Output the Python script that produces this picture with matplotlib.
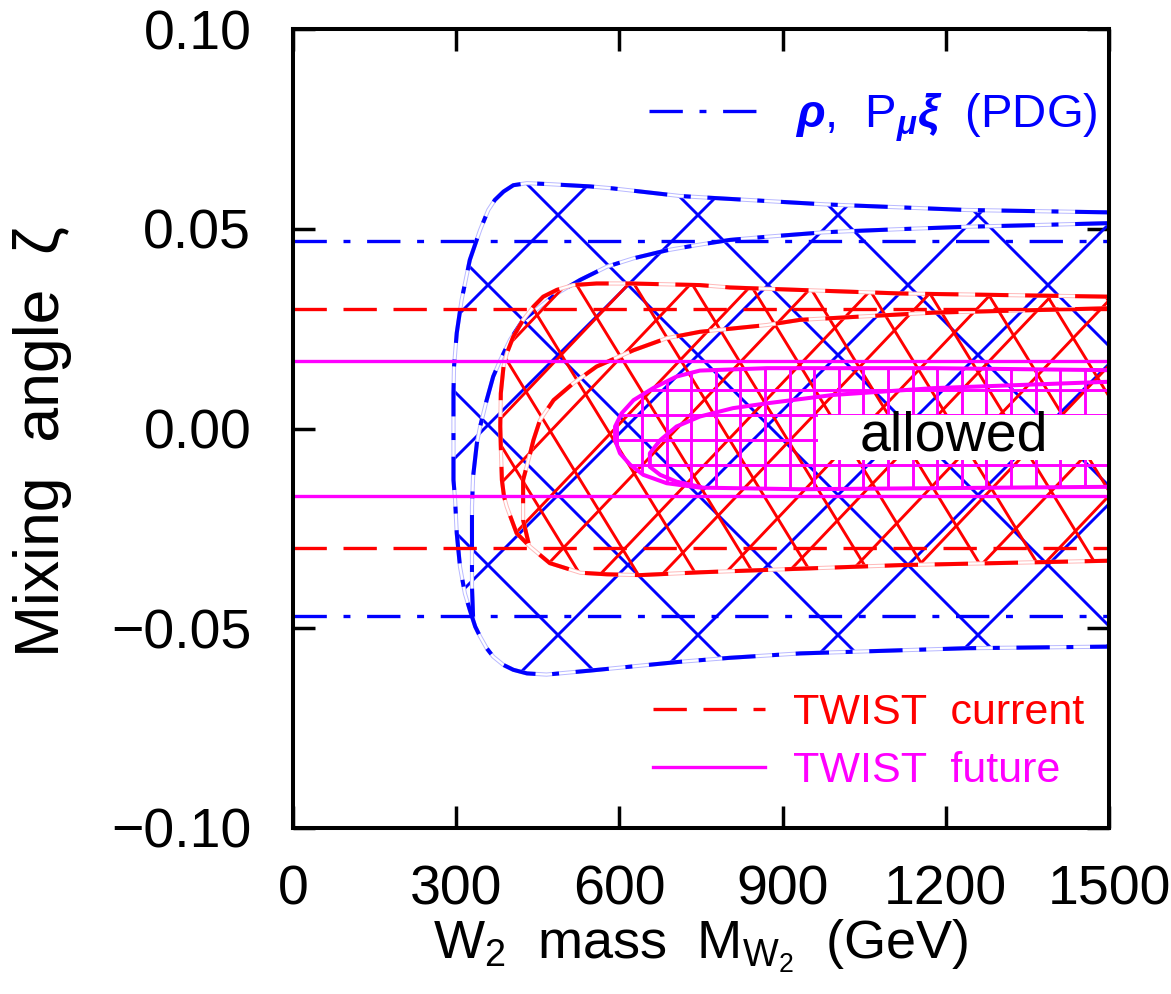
import numpy as np
import matplotlib
matplotlib.use('Agg')
import matplotlib.pyplot as plt
from matplotlib.patches import Polygon, Rectangle
from matplotlib.lines import Line2D
from matplotlib.ticker import FuncFormatter

plt.rcParams['font.family'] = ['Liberation Sans Narrow', 'Liberation Sans', 'DejaVu Sans']
plt.rcParams['mathtext.fontset'] = 'custom'
plt.rcParams['mathtext.rm'] = 'Liberation Sans'
plt.rcParams['mathtext.it'] = 'Liberation Sans:italic'
plt.rcParams['mathtext.bf'] = 'Liberation Sans:bold:italic'
plt.rcParams['lines.scale_dashes'] = False

# --- data: W2 mass (GeV) vs mixing angle zeta ---
# PDG (rho, P_mu xi): outer and inner contour
pdg_outer_m = [1499, 1238, 978, 748, 711, 588, 546, 466, 430, 405, 387, 371, 359, 344,
               325, 310, 301, 296, 295, 295, 295, 298, 301, 307, 316, 325, 335, 344,
               356, 368, 387, 405, 430, 466, 546, 711, 803, 932, 1238, 1499]
pdg_outer_z = [0.0541, 0.0547, 0.0561, 0.0579, 0.0582, 0.0601, 0.0606, 0.0612, 0.0614,
               0.0609, 0.0593, 0.0572, 0.0547, 0.0497, 0.0422, 0.0322, 0.0239, 0.0155,
               0.0089, -0.0037, -0.0129, -0.0179, -0.0262, -0.0346, -0.0413, -0.0454,
               -0.0496, -0.0521, -0.0550, -0.0571, -0.0592, -0.0604, -0.0613, -0.0616,
               -0.0606, -0.0584, -0.0574, -0.0563, -0.0550, -0.0546]
pdg_inner_m = [1499, 1361, 1238, 1116, 1024, 975, 871, 803, 742, 687, 626, 577, 528,
               485, 454, 423, 399, 381, 368, 356, 344, 338, 331, 329, 329, 329, 331]
pdg_inner_z = [0.0514, 0.0509, 0.0505, 0.0499, 0.0494, 0.0491, 0.0480, 0.0472, 0.0459,
               0.0446, 0.0426, 0.0405, 0.0372, 0.0338, 0.0305, 0.0272, 0.0222, 0.0171,
               0.0130, 0.0071, 0.0005, -0.0037, -0.0121, -0.0196, -0.0321, -0.0396,
               -0.0471]

# TWIST current
cur_outer_m = [1499, 1116, 803, 748, 620, 558, 515, 485, 460, 442, 423, 405, 393, 387,
               382, 381, 382, 384, 388, 393, 402, 411, 436, 472, 528, 577, 638, 748,
               1116, 1499]
cur_outer_z = [0.0330, 0.0338, 0.0353, 0.0359, 0.0363, 0.0363, 0.0359, 0.0347, 0.0330,
               0.0305, 0.0272, 0.0230, 0.0188, 0.0155, 0.0088, 0.0005, -0.0046, -0.0129,
               -0.0171, -0.0196, -0.0229, -0.0262, -0.0296, -0.0337, -0.0361, -0.0365,
               -0.0367, -0.0360, -0.0342, -0.0331]
cur_inner_m = [1499, 1177, 932, 871, 748, 687, 626, 558, 515, 479, 454, 442, 436, 423,
               423, 433]
cur_inner_z = [0.0301, 0.0290, 0.0272, 0.0259, 0.0242, 0.0226, 0.0196, 0.0155, 0.0113,
               0.0071, 0.0021, -0.0029, -0.0062, -0.0129, -0.0229, -0.0287]

# TWIST future
fut_outer_m = [1500, 1177, 871, 748, 705, 662, 626, 604, 592, 592, 601, 620, 644, 687,
               748, 932, 1500]
fut_outer_z = [0.0146, 0.0151, 0.0151, 0.0145, 0.0130, 0.0101, 0.0071, 0.0038, 0.0005,
               -0.0029, -0.0062, -0.0091, -0.0116, -0.0137, -0.0148, -0.0152, -0.0146]
fut_inner_m = [1500, 1177, 993, 871, 809, 748, 705, 675, 656, 656, 675, 705, 748]
fut_inner_z = [0.0117, 0.0101, 0.0084, 0.0063, 0.0051, 0.0030, 0.0005, -0.0029, -0.0062,
               -0.0096, -0.0116, -0.0133, -0.0146]

# one-parameter limits |zeta| < value
pdg_limit = 0.047
cur_limit = 0.030
fut_limit = 0.017

x_ticks = [0, 300, 600, 900, 1200, 1500]
y_ticks = [-0.10, -0.05, 0.00, 0.05, 0.10]

BLUE, RED, MAG = '#0000ff', '#ff0000', '#ff00ff'
DASHDOT = (0, (24, 12, 5, 12))
DASH = (0, (24, 12))

W, H = 1171, 994
fig = plt.figure(figsize=(W / 100, H / 100), dpi=100)
ax = fig.add_axes([293 / W, 1 - 828 / H, 816 / W, 799 / H])
ax.set_xlim(0, 1500)
ax.set_ylim(-0.10, 0.10)


def img_to_data(x, y):
    pts = np.column_stack([np.asarray(x, float), H - np.asarray(y, float)])
    return ax.transData.inverted().transform(pts)


def region(m_out, z_out):
    p = Polygon(np.column_stack([m_out, z_out]), closed=True, fill=False,
                edgecolor='none', transform=ax.transData)
    ax.add_patch(p)
    return p


def hatch(clip, color, kind, start, period, slope=0.0, lw=2.1, z=2):
    # hatch lines in picture pixels: 'd' -> x = start + k*period + slope*y ; 'h' -> y = start + k*period
    segs = []
    if kind == 'h':
        for k in range(-60, 60):
            y = start + k * period
            if 29 <= y <= 828:
                segs.append(img_to_data([293, 1109], [y, y]))
    else:
        for k in range(-80, 80):
            x0 = start + k * period
            xa, xb = x0, x0 + slope * H
            if max(xa, xb) < 250 or min(xa, xb) > 1150:
                continue
            segs.append(img_to_data([xa, xb], [0, H]))
    for s in segs:
        ln, = ax.plot(s[:, 0], s[:, 1], color=color, lw=lw, zorder=z,
                      solid_capstyle='butt')
        ln.set_clip_path(clip)


def contour(m, z, color, pale, ls, zo):
    if pale is not None:
        ax.plot(m, z, color=pale, lw=3.0, zorder=zo)
        ax.plot(m, z, color='white', lw=1.6, zorder=zo + 0.01)
    ax.plot(m, z, color=color, lw=2.9, linestyle=ls, zorder=zo + 0.02,
            dash_capstyle='butt', solid_joinstyle='round')


# PDG region
blue_clip = region(pdg_outer_m, pdg_outer_z)
hatch(blue_clip, BLUE, 'd', 203, 140, slope=1.0, z=2)
hatch(blue_clip, BLUE, 'd', 1333, 140, slope=-1.0, z=2)
contour(pdg_outer_m, pdg_outer_z, BLUE, '#b8b8ff', DASHDOT, 3)
contour(pdg_inner_m, pdg_inner_z, BLUE, '#b8b8ff', DASHDOT, 3)

# TWIST current region
red_clip = region(cur_outer_m, cur_outer_z)
hatch(red_clip, RED, 'd', 576, 58, slope=0.613, z=4)
hatch(red_clip, RED, 'd', 1023, 62, slope=-0.952, z=4)
contour(cur_outer_m, cur_outer_z, RED, '#ffb8b8', DASH, 5)
contour(cur_inner_m, cur_inner_z, RED, '#ffb8b8', DASH, 5)

# TWIST future region
mag_clip = region(fut_outer_m, fut_outer_z)
hatch(mag_clip, MAG, 'd', 642, 24.6, slope=0.0, z=6)
hatch(mag_clip, MAG, 'h', 415, 25, z=6)
contour(fut_outer_m, fut_outer_z, MAG, None, '-', 7)
contour(fut_inner_m, fut_inner_z, MAG, None, '-', 7)

# horizontal limits
ax.axhline(pdg_limit, color=BLUE, lw=2.4, linestyle=DASHDOT, zorder=8)
ax.axhline(-pdg_limit, color=BLUE, lw=2.4, linestyle=DASHDOT, zorder=8)
ax.axhline(cur_limit, color=RED, lw=2.4, linestyle=DASH, zorder=8)
ax.axhline(-cur_limit, color=RED, lw=2.4, linestyle=DASH, zorder=8)
ax.axhline(fut_limit, color=MAG, lw=2.4, zorder=8)
ax.axhline(-fut_limit, color=MAG, lw=2.4, zorder=8)

# "allowed" label with white box
ax.add_patch(Rectangle((965, -0.0079), 535, 0.0113, facecolor='white',
                       edgecolor='none', zorder=9))
ax.text(1215, -0.0021, 'allowed', fontsize=40, ha='center', va='center', zorder=10)

# legends
leg1 = ax.legend([Line2D([], [], color=BLUE, lw=2.4, linestyle=DASHDOT)],
                 [r'$\mathbf{\rho}$,  P$_{\mathbf{\mu}}\mathbf{\xi}$  (PDG)'],
                 loc='center right', bbox_to_anchor=(0.9865, 0.8886), frameon=False,
                 fontsize=34, handlelength=2.4, handletextpad=0.7, borderpad=0,
                 borderaxespad=0, labelcolor=[BLUE])
ax.add_artist(leg1)
ax.legend([Line2D([], [], color=RED, lw=2.4, linestyle=DASH),
           Line2D([], [], color=MAG, lw=2.4)],
          ['TWIST  current', 'TWIST  future'],
          loc='center right', bbox_to_anchor=(0.970, 0.108), frameon=False,
          fontsize=31, handlelength=2.6, handletextpad=0.65, borderpad=0,
          borderaxespad=0, labelspacing=0.42, labelcolor=[RED, MAG])

# axes styling
for sp in ax.spines.values():
    sp.set_linewidth(2.9)
    sp.set_zorder(20)
ax.set_xticks(x_ticks)
ax.set_yticks(y_ticks)
ax.tick_params(direction='in', length=16, width=2.5, top=True, right=True,
               labelsize=40, zorder=20)
ax.tick_params(axis='x', pad=26)
ax.tick_params(axis='y', pad=30)
ax.xaxis.set_major_formatter(FuncFormatter(lambda v, p: f'{v:.0f}'))
ax.yaxis.set_major_formatter(
    FuncFormatter(lambda v, p: f'{v:.2f}'.replace('-0.00', '0.00').replace('-', '\u2212')))

ax.set_xlabel(r'W$_{2}$  mass  M$_{\mathregular{W_2}}$  (GeV)', fontsize=39, va='center')
ax.xaxis.set_label_coords(0.5, -0.148)
ax.set_ylabel('Mixing  angle  \u03b6', fontsize=45, va='center')
ax.yaxis.set_label_coords(-0.307, 0.483)

fig.savefig('out.png', dpi=100)
